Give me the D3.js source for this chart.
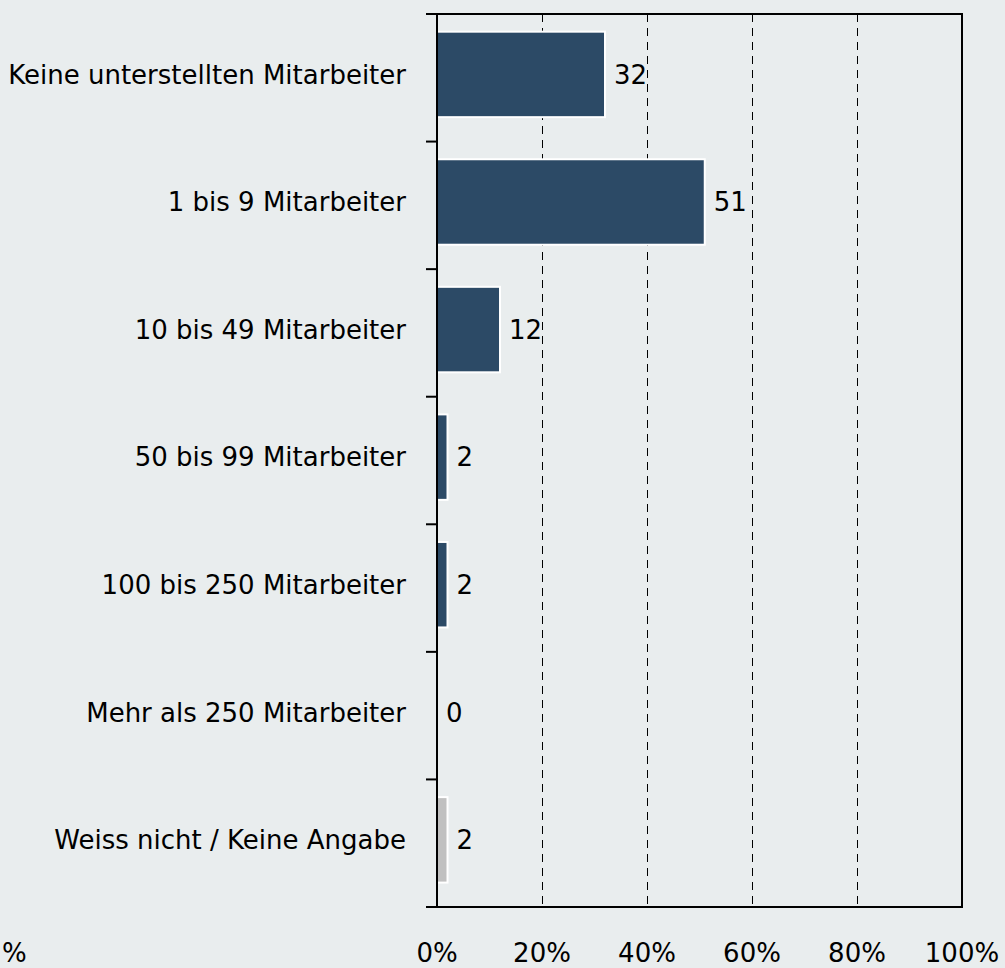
<!DOCTYPE html>
<html>
<head>
<meta charset="utf-8">
<script src="https://cdn.jsdelivr.net/npm/d3@7"></script>
<style>
  html, body { margin: 0; padding: 0; background: #e9edee; }
  svg { display: block; }
  text { font-family: "DejaVu Sans", Verdana, sans-serif; fill: #000; }
</style>
</head>
<body>
<svg id="chart" width="1005" height="968"></svg>
<script>
// Daten
const categories = [
  "Keine unterstellten Mitarbeiter",
  "1 bis 9 Mitarbeiter",
  "10 bis 49 Mitarbeiter",
  "50 bis 99 Mitarbeiter",
  "100 bis 250 Mitarbeiter",
  "Mehr als 250 Mitarbeiter",
  "Weiss nicht / Keine Angabe"
];
const values = [32, 51, 12, 2, 2, 0, 2];
const xTicks = [0, 20, 40, 60, 80, 100];

const svg = d3.select("#chart");
const margin = { left: 437, right: 43, top: 14, bottom: 61 };
const width = 1005, height = 968;

const x = d3.scaleLinear().domain([0, 100]).range([margin.left, width - margin.right]);
const y = d3.scaleBand().domain(categories).range([margin.top, height - margin.bottom])
  .paddingInner(0.33).paddingOuter(0.165).align(0.42);

const fontSize = 26;

// Gitterlinien
svg.append("g")
  .selectAll("line")
  .data(xTicks.filter(d => d > 0 && d < 100))
  .join("line")
  .attr("x1", d => x(d) + 0.5).attr("x2", d => x(d) + 0.5)
  .attr("y1", margin.top).attr("y2", height - margin.bottom)
  .attr("stroke", "#000").attr("stroke-width", 1)
  .attr("stroke-dasharray", "8,6");

// Balken
svg.append("g")
  .selectAll("rect")
  .data(values)
  .join("rect")
  .attr("x", x(0))
  .attr("y", (d, i) => y(categories[i]))
  .attr("width", d => x(d) - x(0))
  .attr("height", y.bandwidth())
  .attr("fill", (d, i) => i === categories.length - 1 ? "#c0c0c0" : "#2c4a66")
  .attr("stroke", d => d > 0 ? "#fff" : "none")
  .attr("stroke-width", 2);

// Werte
svg.append("g")
  .selectAll("text")
  .data(values)
  .join("text")
  .attr("x", d => x(d) + 9)
  .attr("y", (d, i) => y(categories[i]) + y.bandwidth() / 2)
  .attr("dy", "0.36em")
  .style("font-size", fontSize + "px")
  .text(d => d);

// Rahmen
svg.append("rect")
  .attr("x", x(0)).attr("y", margin.top)
  .attr("width", x(100) - x(0)).attr("height", height - margin.bottom - margin.top)
  .attr("fill", "none").attr("stroke", "#000").attr("stroke-width", 2);

// y-Achse
const step = (height - margin.bottom - margin.top) / categories.length;
const yAxis = svg.append("g").attr("transform", `translate(${x(0)},0)`);
yAxis.selectAll("line")
  .data(d3.range(categories.length + 1))
  .join("line")
  .attr("x1", -11).attr("x2", 0)
  .attr("y1", i => margin.top + i * step)
  .attr("y2", i => margin.top + i * step)
  .attr("stroke", "#000").attr("stroke-width", 2);
yAxis.selectAll("text")
  .data(categories)
  .join("text")
  .attr("x", -31)
  .attr("y", d => y(d) + y.bandwidth() / 2)
  .attr("dy", "0.36em")
  .attr("text-anchor", "end")
  .style("font-size", fontSize + "px")
  .text(d => d);

// x-Achse
const xAxis = svg.append("g").attr("transform", `translate(0,${height - margin.bottom})`);
xAxis.selectAll("text")
  .data(xTicks)
  .join("text")
  .attr("x", d => x(d))
  .attr("y", 55)
  .attr("text-anchor", "middle")
  .style("font-size", fontSize + "px")
  .text(d => d + "%");

svg.append("text")
  .attr("x", 2).attr("y", height - margin.bottom + 55)
  .style("font-size", fontSize + "px")
  .text("%");
</script>
</body>
</html>
